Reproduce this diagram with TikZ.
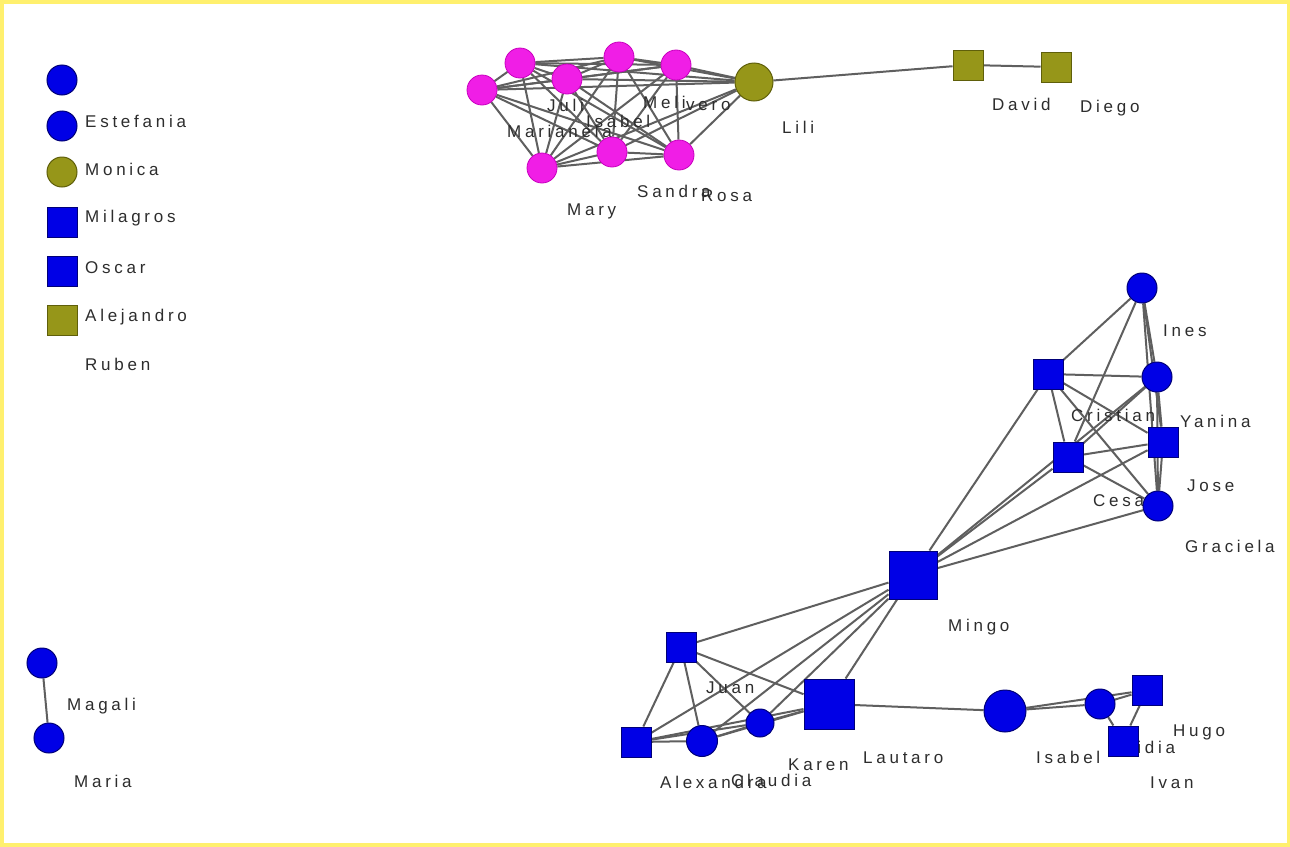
\documentclass[tikz,border=0pt]{standalone}
\usepackage{fontspec}
\newfontfamily\labfont{Liberation Sans}[LetterSpace=22]
\pgfdeclarelayer{bglayer}
\pgfdeclarelayer{edgelayer}
\pgfdeclarelayer{labellayer}
\pgfsetlayers{bglayer,edgelayer,labellayer,main}
\definecolor{nblue}{RGB}{0,0,230}
\definecolor{nbluedark}{RGB}{0,0,120}
\definecolor{npink}{RGB}{240,30,230}
\definecolor{npinkdark}{RGB}{200,0,190}
\definecolor{nolive}{RGB}{150,150,25}
\definecolor{nolivedark}{RGB}{95,95,10}
\definecolor{edgegray}{RGB}{95,95,95}
\definecolor{labgray}{RGB}{45,45,45}
\definecolor{frameyellow}{RGB}{255,240,110}
\tikzset{
  bc/.style={circle, fill=nblue, draw=nbluedark, line width=1pt, minimum size=30pt, inner sep=0pt},
  bs/.style={rectangle, fill=nblue, draw=nbluedark, line width=1pt, minimum size=30pt, inner sep=0pt},
  pc/.style={circle, fill=npink, draw=npinkdark, line width=0.8pt, minimum size=30pt, inner sep=0pt},
  oc/.style={circle, fill=nolive, draw=nolivedark, line width=1pt, minimum size=30pt, inner sep=0pt},
  os/.style={rectangle, fill=nolive, draw=nolivedark, line width=1pt, minimum size=30pt, inner sep=0pt},
  lab/.style={anchor=west, text=labgray, font=\labfont\fontsize{17}{20}\selectfont, inner sep=0pt},
  link/.style={draw=edgegray, line width=2pt}
}
\begin{document}
\begin{tikzpicture}[x=1pt,y=-1pt]
\useasboundingbox (0,0) rectangle (1290,846);
\begin{pgfonlayer}{bglayer}
\fill[white] (0,0) rectangle (1290,846);
\draw[frameyellow, line width=7pt] (0,0) rectangle (1290,846);
\end{pgfonlayer}

% ---------- nodes ----------
% legend column
\node[bc] (lg1) at (62,80) {};
\node[bc] (lg2) at (62,126) {};
\node[oc] (lg3) at (62,172) {};
\node[bs] (lg4) at (62,222) {};
\node[bs] (lg5) at (62,271) {};
\node[os] (lg6) at (62,320) {};
% pink cluster
\node[pc] (p1) at (482,90) {};
\node[pc] (p2) at (520,63) {};
\node[pc] (p3) at (567,79) {};
\node[pc] (p4) at (619,57) {};
\node[pc] (p5) at (676,65) {};
\node[pc] (p6) at (542,168) {};
\node[pc] (p7) at (612,152) {};
\node[pc] (p8) at (679,155) {};
\node[oc, minimum size=38pt] (lili) at (754,82) {};
\node[os] (david) at (968,65) {};
\node[os] (diego) at (1056,67) {};
% right cluster
\node[bc] (ines) at (1142,288) {};
\node[bs] (cristian) at (1048,374) {};
\node[bc] (yanina) at (1157,377) {};
\node[bs] (cesar) at (1068,457) {};
\node[bs] (jose) at (1163,442) {};
\node[bc] (graciela) at (1158,506) {};
\node[bs, minimum size=48pt] (mingo) at (913,575) {};
% lower cluster
\node[bs] (juan) at (681,647) {};
\node[bs] (alexandra) at (636,742) {};
\node[bc, minimum size=31pt] (claudia) at (702,741) {};
\node[bc, minimum size=28pt] (karen) at (760,723) {};
\node[bs, minimum size=50pt] (lautaro) at (829,704) {};
\node[bc, minimum size=42pt] (isabel) at (1005,711) {};
\node[bc] (lidia) at (1100,704) {};
\node[bs] (hugo) at (1147,690) {};
\node[bs] (ivan) at (1123,741) {};
% bottom left
\node[bc] (magali) at (42,663) {};
\node[bc] (maria) at (49,738) {};

% ---------- labels ----------
\begin{pgfonlayer}{labellayer}
\node[lab] (t1) at (85,121) {Estefania};
\node[lab] (t2) at (85,169) {Monica};
\node[lab] (t3) at (85,218) {Milagros};
\node[lab] (t4) at (85,268) {Oscar};
\node[lab] (t5) at (85,317) {Alejandro};
\node[lab] (t6) at (85,364) {Ruben};
\node[lab] (t7) at (547,105) {Juli};
\node[lab] (t8) at (507,131) {Marianela};
\node[lab] (t9) at (586,121) {Isabel};
\node[lab] (t10) at (643,102) {Meli};
\node[lab] (t11) at (686,106) {vero};
\node[lab] (t12) at (782,127) {Lili};
\node[lab] (t13) at (567,211) {Mary};
\node[lab] (t14) at (637,191) {Sandra};
\node[lab] (t15) at (701,196) {Rosa};
\node[lab] (t16) at (992,104) {David};
\node[lab] (t17) at (1080,108) {Diego};
\node[lab] (t18) at (1163,331) {Ines};
\node[lab] (t19) at (1071,415) {Cristian};
\node[lab] (t20) at (1180,421) {Yanina};
\node[lab] (t21) at (1187,486) {Jose};
\node[lab] (t22) at (1093,501) {Cesar};
\node[lab] (t23) at (1185,546) {Graciela};
\node[lab] (t24) at (948,627) {Mingo};
\node[lab] (t25) at (706,688) {Juan};
\node[lab] (t26) at (788,765) {Karen};
\node[lab] (t27) at (863,758) {Lautaro};
\node[lab] (t28) at (660,782) {Alexandra};
\node[lab] (t29) at (731,780) {Claudia};
\node[lab] (t30) at (1036,757) {Isabel};
\node[lab] (t31) at (1124,747) {Lidia};
\node[lab] (t32) at (1173,732) {Hugo};
\node[lab] (t33) at (1150,783) {Ivan};
\node[lab] (t34) at (67,706) {Magali};
\node[lab] (t35) at (74,781) {Maria};
\end{pgfonlayer}

% ---------- connectors ----------
\begin{pgfonlayer}{edgelayer}
\foreach \a/\b in {p1/p2,p1/p3,p1/p4,p1/p5,p1/p6,p1/p7,p1/p8,
                   p2/p3,p2/p4,p2/p5,p2/p6,p2/p7,p2/p8,
                   p3/p4,p3/p5,p3/p6,p3/p7,p3/p8,
                   p4/p5,p4/p6,p4/p7,p4/p8,
                   p5/p6,p5/p7,p5/p8,
                   p6/p7,p6/p8,p7/p8,
                   p1/lili,p2/lili,p3/lili,p4/lili,p5/lili,p6/lili,p7/lili,p8/lili,
                   lili/david,david/diego,
                   ines/cristian,ines/yanina,ines/cesar,ines/jose,ines/graciela,
                   cristian/yanina,cristian/cesar,cristian/jose,cristian/graciela,
                   yanina/cesar,yanina/jose,yanina/graciela,
                   cesar/jose,cesar/graciela,jose/graciela,
                   mingo/cristian,mingo/cesar,mingo/yanina,mingo/jose,mingo/graciela,
                   mingo/juan,mingo/alexandra,mingo/claudia,mingo/karen,mingo/lautaro,
                   juan/alexandra,juan/claudia,juan/karen,juan/lautaro,
                   alexandra/claudia,alexandra/karen,alexandra/lautaro,
                   claudia/karen,claudia/lautaro,karen/lautaro,
                   lautaro/isabel,isabel/lidia,isabel/hugo,lidia/hugo,lidia/ivan,hugo/ivan,
                   magali/maria}
  \draw[link] (\a) -- (\b);
\end{pgfonlayer}
\end{tikzpicture}
\end{document}
